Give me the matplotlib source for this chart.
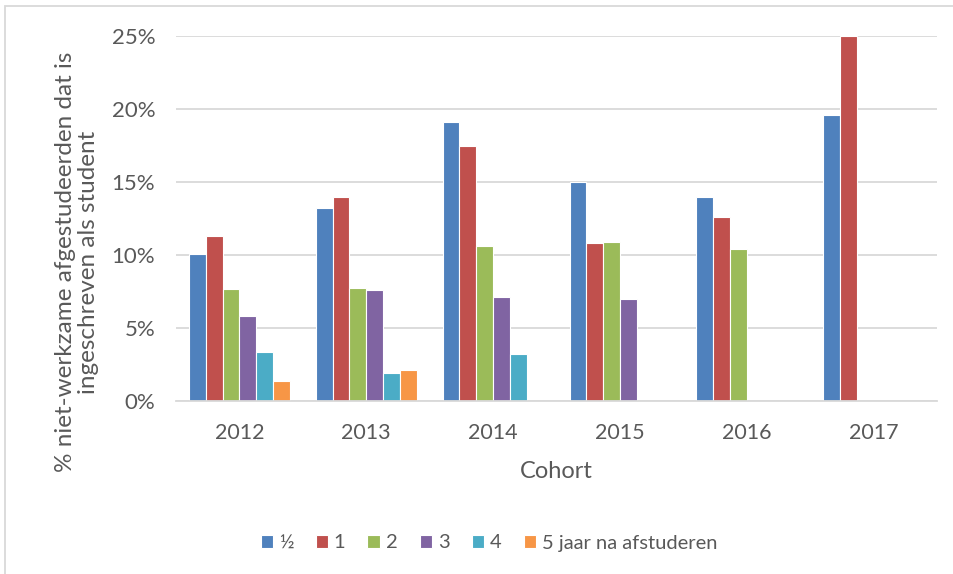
import numpy as np
import matplotlib
matplotlib.use('Agg')
import matplotlib.pyplot as plt
from matplotlib.patches import Rectangle

cohorts = ['2012', '2013', '2014', '2015', '2016', '2017']
series_names = ['½', '1', '2', '3', '4', '5 jaar na afstuderen']
# percentages per series (years after graduation), NaN = no bar
half_yr = [10.1, 13.2, 19.1, 15.0, 13.95, 19.6]
yr1 = [11.3, 14.0, 17.45, 10.8, 12.6, 25.0]
yr2 = [7.7, 7.75, 10.65, 10.9, 10.4, np.nan]
yr3 = [5.8, 7.6, 7.1, 7.0, np.nan, np.nan]
yr4 = [3.35, 1.95, 3.2, np.nan, np.nan, np.nan]
yr5 = [1.4, 2.1, np.nan, np.nan, np.nan, np.nan]
yticks = [0, 5, 10, 15, 20, 25]

colors = ['#4F81BD', '#C0504D', '#9BBB59', '#8064A2', '#4BACC6', '#F79646']
txt = '#595959'
grid = '#D9D9D9'

plt.rcParams['font.family'] = ['Lato', 'DejaVu Sans']

fig = plt.figure(figsize=(9.54, 5.74), dpi=100)
ax = fig.add_axes([176/954, 1-401/574, (937-176)/954, (401-36)/574])

x = np.arange(len(cohorts))
all_series = [half_yr, yr1, yr2, yr3, yr4, yr5]
step = 0.1325
for i, (vals, name, c) in enumerate(zip(all_series, series_names, colors)):
    off = (i - 2.5) * step
    ax.bar(x + off, np.nan_to_num(vals), width=step, color=c, edgecolor='white',
           linewidth=0.8, label=name, zorder=3)

ax.set_xlim(-0.5, len(cohorts) - 0.5)
ax.set_ylim(0, 25)
ax.set_yticks(yticks)
ax.set_yticklabels([f'{v}%' for v in yticks])
ax.set_xticks(x)
ax.set_xticklabels(cohorts)
ax.yaxis.grid(True, color=grid, linewidth=1.3, zorder=0)
ax.set_axisbelow(True)
for s in ['top', 'right', 'left']:
    ax.spines[s].set_visible(False)
ax.spines['bottom'].set_color(grid)
ax.spines['bottom'].set_linewidth(1.3)
ax.spines['bottom'].set_zorder(4)
ax.tick_params(axis='both', length=0, colors=txt)
ax.tick_params(axis='x', pad=16, labelsize=15.5)
ax.tick_params(axis='y', pad=15, labelsize=16)

ax.set_xlabel('Cohort', fontsize=17, color=txt, labelpad=13)
fig.text(77/954, 1-262/574, '% niet-werkzame afgestudeerden dat is\ningeschreven als student',
         rotation=90, ha='center', va='center', fontsize=17.5, color=txt,
         multialignment='center', linespacing=1.15)

leg = fig.legend(loc='center', bbox_to_anchor=(489/954, 1-543/574), ncol=6,
                 frameon=False, fontsize=14.5, handlelength=0.6, handleheight=0.6,
                 handletextpad=0.3, columnspacing=1.1, labelcolor=txt)

# chart border
fig.patches.append(Rectangle((5/954, -0.02), 1.05, 1-6/574 + 0.02, transform=fig.transFigure,
                             fill=False, edgecolor=grid, linewidth=1.3))

fig.savefig('out.png', dpi=100)
